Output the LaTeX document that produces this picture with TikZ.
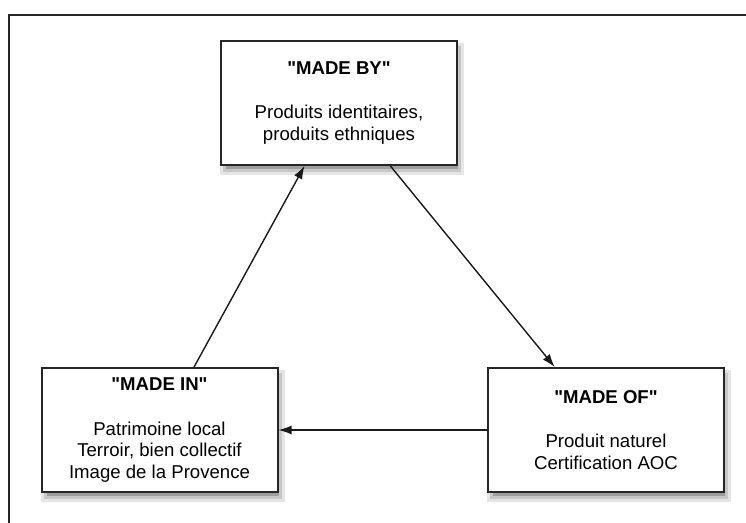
\documentclass[tikz,border=0pt]{standalone}
\usepackage{fontspec}
\setmainfont{Liberation Sans}
\usetikzlibrary{arrows.meta}

\begin{document}
\begin{tikzpicture}[
    x=0.5pt, y=-0.5pt,
    bloc/.style={draw=black!85, line width=1pt, fill=white, rectangle, minimum width=118pt, minimum height=62pt, align=center, font=\fontsize{9.3}{10.8}\selectfont},
    fleche/.style={draw=black!90, line width=0.7pt, -{Latex[length=6.5pt, width=4.5pt]}}
]
\useasboundingbox (0,0) rectangle (746,523);

% ====================
% Cadre
% ====================
\draw[black!85, line width=1pt] (9,523) |- (746,15);

% Ombres portees (du plus clair au plus fonce)
\fill[black!10] (220,43) rectangle (464,175);
\fill[black!22] (223,46) rectangle (461,172);
\fill[black!38] (226,49) rectangle (458,169);

\fill[black!10] (40.5,370) rectangle (284.5,502);
\fill[black!22] (43.5,373) rectangle (281.5,499);
\fill[black!38] (46.5,376) rectangle (278.5,496);

\fill[black!10] (487,370) rectangle (731,502);
\fill[black!22] (490,373) rectangle (728,499);
\fill[black!38] (493,376) rectangle (725,496);

% ====================
% Blocs
% ====================
\node[bloc] (MBY) at (339,103) {{\bfseries\textquotedbl MADE BY\textquotedbl}\\[11.5pt] Produits identitaires,\\ produits ethniques};
\node[bloc] (MIN) at (159.5,430) {{\bfseries\textquotedbl MADE IN\textquotedbl}\\[11.5pt] Patrimoine local\\ Terroir, bien collectif\\ Image de la Provence};
\node[bloc] (MOF) at (606,430) {{\bfseries\textquotedbl MADE OF\textquotedbl}\\[11.5pt] Produit naturel\\ Certification AOC};

% ====================
% Fleches
% ====================
\draw[fleche] (MIN) -- (MBY);
\draw[fleche] (MBY) -- (MOF);
\draw[fleche] (MOF) -- (MIN);

\end{tikzpicture}
\end{document}
